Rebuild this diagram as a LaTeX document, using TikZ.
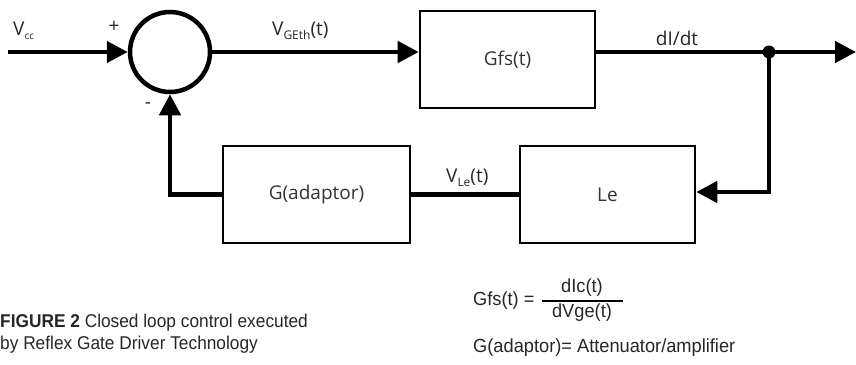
\documentclass[tikz,border=0pt]{standalone}
\usepackage{fontspec}
\setmainfont{Open Sans}
\newfontfamily\capfont{Liberation Sans}[FakeStretch=0.935]
\newfontfamily\eqfont{Liberation Sans}[FakeStretch=0.96]
\usetikzlibrary{arrows.meta,calc}
\begin{document}
\begin{tikzpicture}[x=1pt,y=-1pt,
  blockbox/.style={draw,line width=2.6pt,minimum width=175pt,minimum height=97pt,inner sep=0pt,font=\fontsize{19}{22}\selectfont,text=black!80},
  sumnode/.style={draw,circle,line width=4.5pt,minimum size=80pt,inner sep=0pt},
  sig/.style={line width=4.5pt},
  sigarrow/.style={sig,-{Triangle[length=21pt,width=21pt]}},
  lbl/.style={inner sep=0pt,font=\fontsize{19}{22}\selectfont,text=black!85},
  sgn/.style={inner sep=0pt,font=\fontsize{19}{22}\selectfont,text=black!85},
  captxt/.style={inner sep=0pt,anchor=west,font=\capfont\fontsize{18.5}{22}\selectfont,text=black!85},
  eqtxt/.style={inner sep=0pt,font=\eqfont\fontsize{19}{22}\selectfont,text=black!85}
]
\useasboundingbox (0,0) rectangle (856,364);
\newcommand{\lowsub}[2]{\raisebox{-0.4ex}{\fontsize{#1}{#1}\selectfont #2}}
% nodes
\coordinate (vin) at (8,52);
\node[sumnode] (sum) at (170,52) {};
\node[blockbox] (gfs) at (507.5,59.5) {Gfs(t)};
\node[blockbox,minimum width=187pt] (gad) at (316.5,194.5) {G(adaptor)};
\node[blockbox] (le) at (607.5,194.5) {Le};
\coordinate (split) at (769,52);
\coordinate (vout) at (856,52);
% connectors
\draw[sigarrow] (vin) -- (sum.west);
\draw[sigarrow] (sum.east) -- (sum.east -| gfs.west);
\draw[sig] (sum.east -| gfs.east) -- (split);
\draw[sigarrow] (split) -- (vout);
\fill (split) circle (6.5pt);
\draw[sigarrow] (split) |- ([yshift=2.5pt]le.east);
\draw[sig] (gad.east) -- (le.west);
\draw[sigarrow] (gad.west) -| (sum.south);
% labels
\node[lbl,anchor=base west] (lvcc) at (13,35) {V\lowsub{10}{cc}};
\node[sgn] (lplus) at (114,27) {+};
\node[sgn] (lminus) at (148,106) {-};
\node[lbl,anchor=base west] (lvge) at (272,35) {V\lowsub{12}{GEth}(t)};
\node[lbl] (ldidt) at (677,38) {dI/dt};
\node[lbl,anchor=base west] (lvle) at (446,182) {V\lowsub{12}{Le}(t)};
% caption
\node[captxt] (cap1) at (0,323) {{\bfseries FIGURE 2} Closed loop control executed};
\node[captxt] (cap2) at (0,345) {by Reflex Gate Driver Technology};
% equations
\node[eqtxt,anchor=west] (eq1) at (473,301) {Gfs(t) =};
\node[eqtxt] (num) at (582,288) {dIc(t)};
\node[eqtxt] (den) at (582,313) {dVge(t)};
\draw[line width=1.8pt] (542,301) -- (623,301);
\node[eqtxt,anchor=west] (eq2) at (473,348) {G(adaptor)= Attenuator/amplifier};
\end{tikzpicture}
\end{document}
